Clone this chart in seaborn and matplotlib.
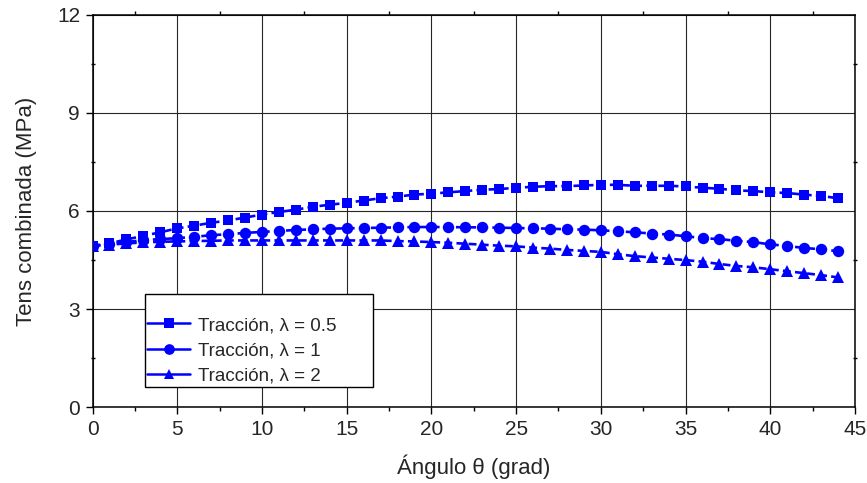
import matplotlib
matplotlib.use("Agg")
import matplotlib.pyplot as plt
from matplotlib.lines import Line2D
from matplotlib.ticker import MultipleLocator
import seaborn as sns
import pandas as pd

# Angle (degrees) and combined stress (MPa) for three stress ratios
theta = list(range(45))

tens_l05 = [4.93, 5.01, 5.13, 5.24, 5.35, 5.47, 5.55, 5.64, 5.71, 5.80,
            5.89, 5.97, 6.04, 6.13, 6.19, 6.25, 6.32, 6.39, 6.44, 6.50,
            6.53, 6.57, 6.61, 6.65, 6.67, 6.71, 6.74, 6.76, 6.76, 6.78,
            6.80, 6.80, 6.77, 6.77, 6.77, 6.75, 6.71, 6.68, 6.63, 6.61,
            6.57, 6.55, 6.50, 6.46, 6.39]

tens_l1 = [4.93, 4.99, 5.05, 5.11, 5.14, 5.17, 5.21, 5.26, 5.29, 5.33,
           5.36, 5.39, 5.42, 5.44, 5.46, 5.47, 5.48, 5.49, 5.50, 5.51,
           5.51, 5.51, 5.50, 5.50, 5.49, 5.48, 5.47, 5.46, 5.44, 5.43,
           5.41, 5.38, 5.35, 5.31, 5.28, 5.23, 5.17, 5.14, 5.09, 5.05,
           4.98, 4.93, 4.87, 4.83, 4.77]

tens_l2 = [4.93, 4.97, 5.01, 5.04, 5.06, 5.07, 5.08, 5.09, 5.10, 5.10,
           5.10, 5.10, 5.10, 5.10, 5.10, 5.10, 5.10, 5.10, 5.08, 5.07,
           5.05, 5.03, 5.00, 4.97, 4.94, 4.92, 4.88, 4.85, 4.81, 4.78,
           4.75, 4.68, 4.62, 4.58, 4.54, 4.50, 4.45, 4.38, 4.32, 4.28,
           4.22, 4.16, 4.10, 4.04, 3.97]

labels = ["Tracción, λ = 0.5", "Tracción, λ = 1", "Tracción, λ = 2"]
markers = ["s", "o", "^"]
x_ticks = [0, 5, 10, 15, 20, 25, 30, 35, 40, 45]
y_ticks = [0, 3, 6, 9, 12]

sns.set_style("white")
plt.rcParams["font.family"] = ["Liberation Sans", "DejaVu Sans"]

fig = plt.figure(figsize=(8.67, 4.83), dpi=100)
ax = fig.add_axes([0.1067, 0.1567, 0.8795, 0.8129])

blue = "#0000FF"
series = [tens_l05, tens_l1, tens_l2]
marker_sizes = [7.6, 8.2, 8.4]
for vals, lab, mk, ms in zip(series, labels, markers, marker_sizes):
    df = pd.DataFrame({"theta": theta, "tens": vals})
    sns.lineplot(data=df, x="theta", y="tens", ax=ax, color=blue,
                 marker=mk, markersize=ms, markeredgewidth=0,
                 linewidth=1.9, linestyle=(0, (3, 1.6)), legend=False,
                 zorder=3)

ax.set_xlim(0, 45)
ax.set_ylim(0, 12)
ax.set_xticks(x_ticks)
ax.set_yticks(y_ticks)
ax.xaxis.set_minor_locator(MultipleLocator(2.5))
ax.yaxis.set_minor_locator(MultipleLocator(1.5))

ax.grid(True, which="major", color="#262626", linewidth=0.8)
ax.set_axisbelow(True)

for sp in ax.spines.values():
    sp.set_visible(True)
    sp.set_color("black")
    sp.set_linewidth(1.1)

ax.tick_params(axis="both", which="major", direction="out", length=5,
               width=1.0, color="black", labelsize=15, pad=4,
               bottom=True, left=True, top=False, right=False)
ax.tick_params(axis="both", which="minor", direction="out", length=3,
               width=1.0, color="black", bottom=True, left=True,
               top=False, right=False)
# small inward minor ticks on the top and right frame
ax.tick_params(axis="x", which="minor", top=True, direction="inout",
               length=3)
ax.tick_params(axis="y", which="minor", right=True, direction="inout",
               length=3)
ax.tick_params(axis="x", which="minor", bottom=True, direction="out",
               length=3)

ax.set_xlabel("Ángulo θ (grad)", fontsize=16, labelpad=11)
ax.set_ylabel("Tens combinada (MPa)", fontsize=16, labelpad=14)

handles = [Line2D([], [], color=blue, marker=m, markersize=ms - 0.5,
                  markeredgewidth=0, linewidth=1.8)
           for m, ms in zip(markers, marker_sizes)]
leg = ax.legend(handles, labels, title=" ", title_fontsize=9,
                loc="lower left",
                bbox_to_anchor=(0.0689, 0.0517, 0.299, 0.24),
                mode="expand", borderaxespad=0, fontsize=13.5,
                frameon=True, fancybox=False, framealpha=1,
                edgecolor="black", borderpad=0.12, labelspacing=0.44,
                handlelength=2.3, handletextpad=0.4)
leg.get_frame().set_linewidth(1.0)
leg.set_zorder(5)

fig.savefig("out.png", dpi=100, facecolor="white")
